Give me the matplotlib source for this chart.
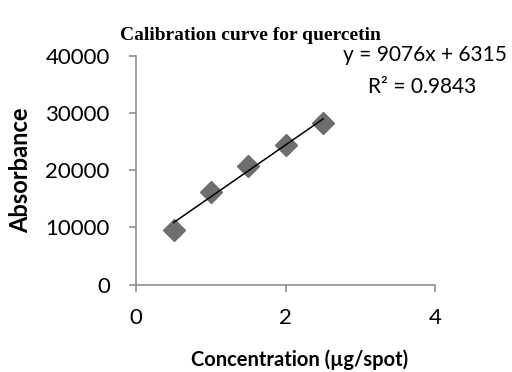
import matplotlib
matplotlib.use('Agg')
import matplotlib.pyplot as plt
import numpy as np

# data
conc = [0.5, 1.0, 1.5, 2.0, 2.5]
absorb = [9540, 16190, 20740, 24420, 28270]
slope = 9076
intercept = 6315
r2 = 0.9843

xticks = [0, 2, 4]
yticks = [0, 10000, 20000, 30000, 40000]

plt.rcParams['font.family'] = ['Lato', 'DejaVu Sans']
axcol = '#868686'

fig = plt.figure(figsize=(5.12, 3.72), dpi=100)
ax = fig.add_axes([0.266, 0.235, 0.584, 0.614])

ax.plot(conc, absorb, linestyle='none', marker='D', ms=11, color='#6e6e6e',
        markeredgecolor='#6e6e6e', zorder=2)
xfit = np.array([conc[0], conc[-1]])
ax.plot(xfit, slope * xfit + intercept, color='black', lw=1.1, zorder=3)

ax.set_xlim(0, 4)
ax.set_ylim(0, 40000)
ax.set_xticks(xticks)
ax.set_yticks(yticks)
ax.tick_params(direction='out', length=5, width=1.1, color=axcol, labelsize=16)
ax.tick_params(axis='y', pad=14)
ax.tick_params(axis='x', pad=12)
for s in ['top', 'right']:
    ax.spines[s].set_visible(False)
for s in ['left', 'bottom']:
    ax.spines[s].set_color(axcol)
    ax.spines[s].set_linewidth(1.1)

ax.set_xlabel('Concentration (µg/spot)', fontsize=14.5, fontweight='bold')
ax.set_ylabel('Absorbance', fontsize=17, fontweight='bold')
ax.xaxis.set_label_coords(0.545, -0.285)
ax.yaxis.set_label_coords(-0.348, 0.5)

fig.text(0.49, 0.892, 'Calibration curve for quercetin', ha='center', va='baseline',
         family='Liberation Serif', fontweight='bold', fontsize=14)
fig.text(0.83, 0.852, 'y = %dx + %d' % (slope, intercept), ha='center', va='center', fontsize=15)
fig.text(0.824, 0.766, 'R² = %.4f' % r2, ha='center', va='center', fontsize=15)

fig.savefig('out.png', dpi=100)
